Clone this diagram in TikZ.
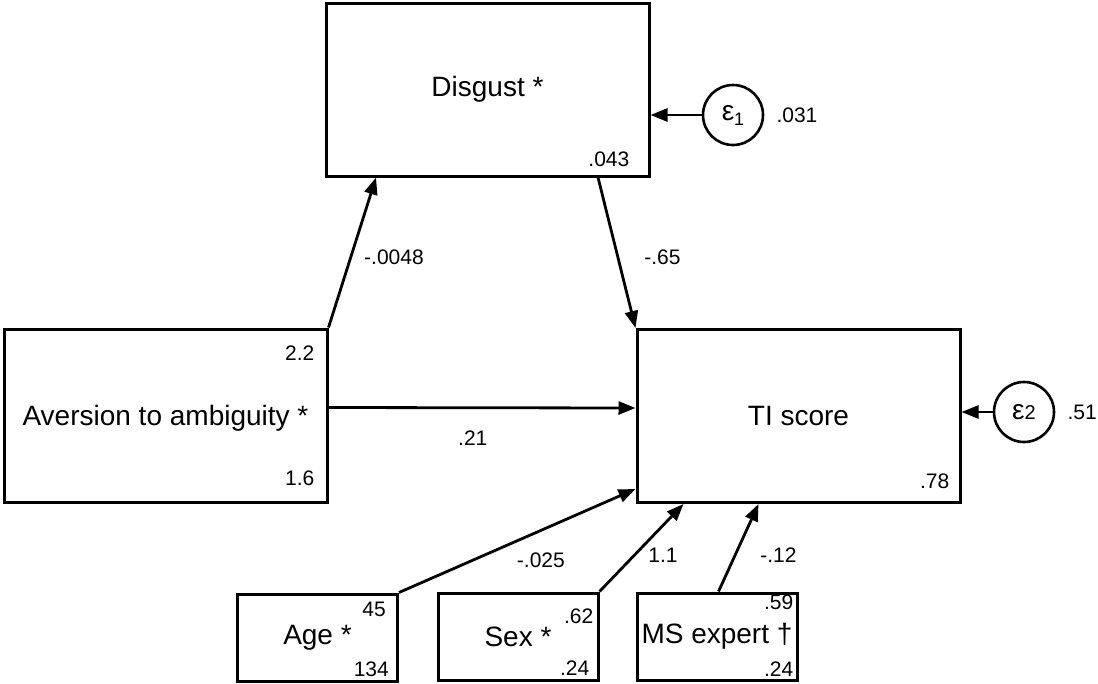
\documentclass[tikz,border=0pt]{standalone}
\usepackage{fontspec}
\setmainfont{Liberation Sans}
\usetikzlibrary{calc,arrows.meta}

\tikzset{
  var/.style={draw, line width=3pt, inner sep=0pt, font=\fontsize{28}{32}\selectfont},
  bigvar/.style={var, minimum width=323pt, minimum height=173pt},
  smallvar/.style={var, minimum width=160pt, minimum height=87pt},
  err/.style={draw, circle, line width=2.6pt, minimum size=60pt, inner sep=0pt, font=\fontsize{28}{32}\selectfont},
  num/.style={font=\fontsize{21}{24}\selectfont, inner sep=0pt},
  reg/.style={line width=2.8pt, -{Triangle[length=17pt,width=13pt]}}
}

\begin{document}
\begin{tikzpicture}[x=1pt,y=-1pt]
\useasboundingbox (0,0) rectangle (1098,683);
%variables
\node[bigvar] (disgust) at (487.5,89.5) {Disgust *};
\node[bigvar, text depth=0pt] (avers) at (165.5,415.5) {Aversion to ambiguity *};
\node[bigvar] (ti) at (798.5,416) {TI score};
\node[smallvar] (age) at (317.5,637.5) {Age *};
\node[smallvar] (sex) at (518,636.5) {Sex *};
\node[smallvar] (ms) at (717,636.5) {MS expert †};
%error terms
\node[err] (e1) at (733,115) {ε\raisebox{-5pt}{\fontsize{18}{18}\selectfont 1}};
\node[err] (e2) at (1024,412) {ε{\fontsize{20}{20}\selectfont 2}};

%numbers in the boxes
\begin{scope}[every node/.style={num, anchor=east}]
\node (disgustv) at ($(disgust.south east)+(-21,-18)$) {.043};
\node (aversm) at ($(avers.north east)+(-14,26)$) {2.2};
\node (aversv) at ($(avers.south east)+(-14,-25)$) {1.6};
\node (tiv) at ($(ti.south east)+(-12,-23)$) {.78};
\node (agem) at ($(age.north east)+(-13,17)$) {45};
\node (agev) at ($(age.south east)+(-10,-13)$) {134};
\node (sexm) at ($(sex.north east)+(-6,25)$) {.62};
\node (sexv) at ($(sex.south east)+(-10,-13)$) {.24};
\node (msm) at ($(ms.north east)+(-5,11)$) {.59};
\node (msv) at ($(ms.south east)+(-5,-12)$) {.24};
\end{scope}
\node[num, anchor=west] (e1v) at ($(e1.east)+(12,0)$) {.031};
\node[num, anchor=west] (e2v) at ($(e2.east)+(12,0)$) {.51};

%paths
\draw[reg] (avers.north east) -- ($(disgust.south west)!0.158!(disgust.south east)$) node[pos=0.47, num, anchor=west, xshift=12pt] (p1) {-.0048};
\draw[reg] ($(disgust.south west)!0.839!(disgust.south east)$) -- (ti.north west) node[pos=0.53, num, anchor=west, xshift=25pt] (p2) {-.65};
\draw[reg] ($(avers.east)+(0,-8)$) -- ($(ti.west)+(0,-8)$) node[pos=0.47, num, anchor=north, yshift=-22pt] (p3) {.21};
\draw[reg] (age.north east) -- ($(ti.south west)+(0,-15)$) node[pos=0.6, num, anchor=north, yshift=-21pt] (p4) {-.025};
\draw[reg] (sex.north east) -- ($(ti.south west)+(48,0)$) node[pos=0.41, num, anchor=west, xshift=13pt] (p5) {1.1};
\draw[reg] ($(ms.north west)+(83,0)$) -- ($(ti.south west)+(123,0)$) node[pos=0.41, num, anchor=west, xshift=24pt] (p6) {-.12};
\draw[reg] (e1) -- (e1 -| disgust.east);
\draw[reg] (e2) -- (e2 -| ti.east);
\end{tikzpicture}
\end{document}
